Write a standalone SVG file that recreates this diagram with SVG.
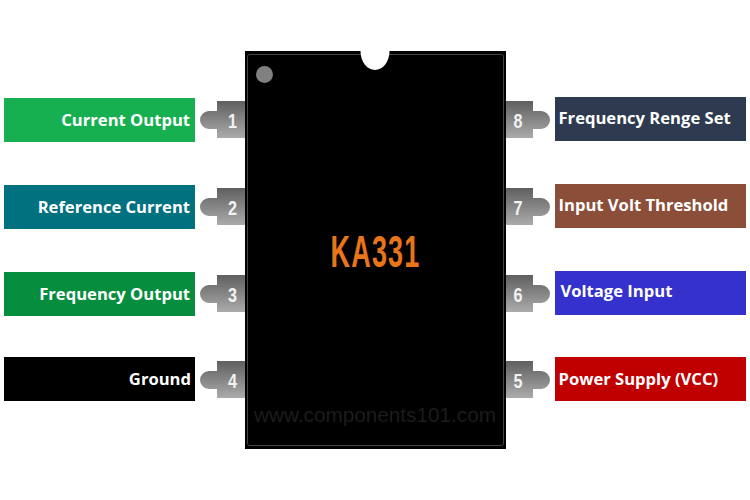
<svg xmlns="http://www.w3.org/2000/svg" width="750" height="500" viewBox="0 0 750 500">
<style>
.lbl{font-family:"Open Sans","Noto Sans",sans-serif;font-weight:700;font-size:16.600px;fill:#fff}
.num{font-family:"Liberation Sans",Arial,sans-serif;font-weight:700;font-size:21px;fill:#f2f2f2}
</style>
<defs>
<linearGradient id="g" x1="0" y1="0" x2="0" y2="1"><stop offset="0" stop-color="#5f5f5f"/><stop offset="1" stop-color="#ababab"/></linearGradient>
<path id="pl" d="M245 0H217V10H209A9 9 0 0 0 209 28H217V37H245Z" fill="url(#g)"/>
<path id="pr" d="M506 0H533V10H541A9 9 0 0 1 541 28H533V37H506Z" fill="url(#g)"/>
</defs>
<rect width="750" height="500" fill="#fff"/>
<g id="connectors"/>
<g id="chip">
<rect x="245" y="51" width="261" height="398" fill="#000"/>
<rect x="247.500" y="54.500" width="256" height="391" rx="2" fill="none" stroke="#444" stroke-width="1"/>
<path d="M360.500 51A14.500 19 0 0 0 389.500 51Z" fill="#fff"/>
<circle cx="264.500" cy="74.500" r="8.500" fill="#808080"/>
<text transform="translate(330.500 267) scale(0.6 1)" x="0" y="0" font-family="Liberation Sans,Arial,sans-serif" font-weight="700" font-size="45" letter-spacing="2" fill="#e8751a">KA331</text>
<text x="254" y="422" font-family="Liberation Sans,Arial,sans-serif" font-size="21" fill="#1c1c1c" textLength="242" lengthAdjust="spacingAndGlyphs">www.components101.com</text>
</g>
<g id="pin1"><use href="#pl" y="101"/><text class="num" x="232.500" y="128" text-anchor="middle" textLength="9" lengthAdjust="spacingAndGlyphs">1</text></g>
<g id="pin2"><use href="#pl" y="188"/><text class="num" x="232.500" y="215" text-anchor="middle" textLength="9" lengthAdjust="spacingAndGlyphs">2</text></g>
<g id="pin3"><use href="#pl" y="275"/><text class="num" x="232.500" y="302" text-anchor="middle" textLength="9" lengthAdjust="spacingAndGlyphs">3</text></g>
<g id="pin4"><use href="#pl" y="361"/><text class="num" x="232.500" y="388" text-anchor="middle" textLength="9" lengthAdjust="spacingAndGlyphs">4</text></g>
<g id="pin8"><use href="#pr" y="101"/><text class="num" x="518" y="128" text-anchor="middle" textLength="9" lengthAdjust="spacingAndGlyphs">8</text></g>
<g id="pin7"><use href="#pr" y="188"/><text class="num" x="518" y="215" text-anchor="middle" textLength="9" lengthAdjust="spacingAndGlyphs">7</text></g>
<g id="pin6"><use href="#pr" y="275"/><text class="num" x="518" y="302" text-anchor="middle" textLength="9" lengthAdjust="spacingAndGlyphs">6</text></g>
<g id="pin5"><use href="#pr" y="361"/><text class="num" x="518" y="388" text-anchor="middle" textLength="9" lengthAdjust="spacingAndGlyphs">5</text></g>
<g id="label1"><rect x="4" y="98" width="191" height="44" fill="#17b050"/><text class="lbl" x="190" y="126" text-anchor="end">Current Output</text></g>
<g id="label2"><rect x="4" y="185" width="191" height="44" fill="#00717f"/><text class="lbl" x="190" y="213" text-anchor="end">Reference Current</text></g>
<g id="label3"><rect x="4" y="272" width="191" height="44" fill="#068e3e"/><text class="lbl" x="190" y="300" text-anchor="end">Frequency Output</text></g>
<g id="label4"><rect x="4" y="357" width="191" height="44" fill="#000"/><text class="lbl" x="191" y="384.500" text-anchor="end">Ground</text></g>
<g id="label8"><rect x="555" y="97" width="191" height="44" fill="#2d3a50"/><text class="lbl" x="558.500" y="123.500">Frequency Renge Set</text></g>
<g id="label7"><rect x="555" y="184" width="191" height="44" fill="#8a4e39"/><text class="lbl" x="558.500" y="210.500">Input Volt Threshold</text></g>
<g id="label6"><rect x="555" y="271" width="191" height="44" fill="#3431cc"/><text class="lbl" x="560.500" y="296.500">Voltage Input</text></g>
<g id="label5"><rect x="555" y="357" width="191" height="44" fill="#c00000"/><text class="lbl" x="558.500" y="384.500">Power Supply (VCC)</text></g>
</svg>
